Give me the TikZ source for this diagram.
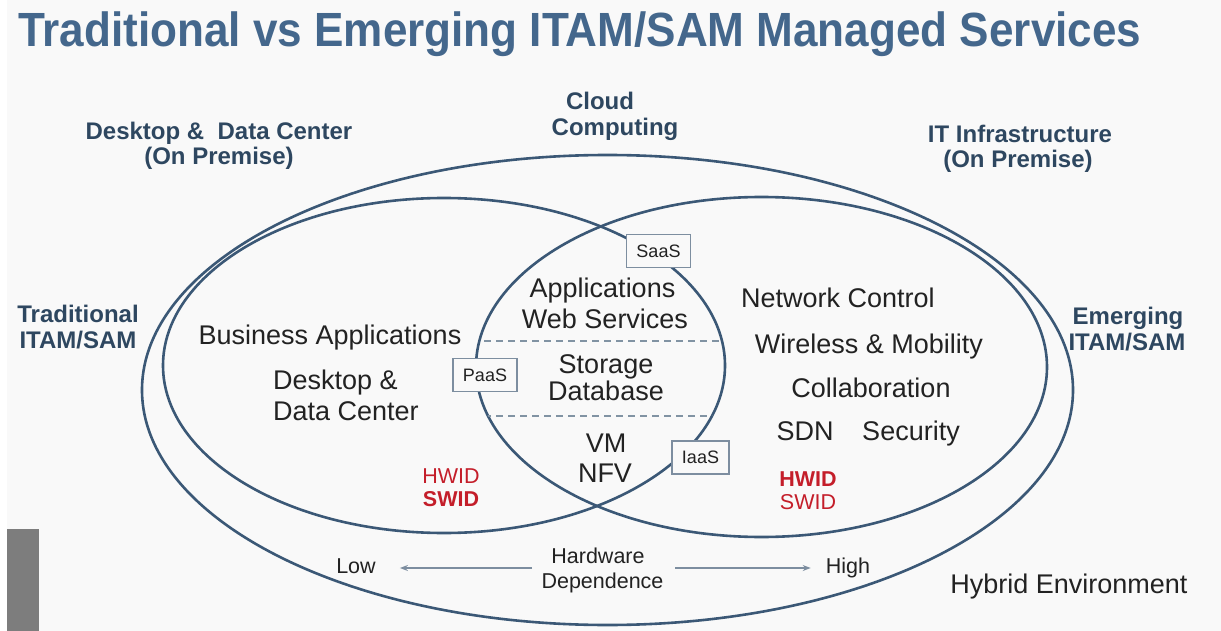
\documentclass[tikz,border=0pt]{standalone}
\usepackage{fontspec}
\setmainfont{Liberation Sans}
\newfontfamily\titlefont[FakeStretch=0.918]{Liberation Sans}
\usepackage{tikz}
\usetikzlibrary{arrows.meta, positioning}
\definecolor{titleblue}{HTML}{44678C}
\definecolor{ringblue}{HTML}{3B5876}
\definecolor{labelblue}{HTML}{2E4760}
\definecolor{bodygray}{HTML}{222222}
\definecolor{idred}{HTML}{C41E2A}
\definecolor{boxgray}{HTML}{7D8EA0}
\definecolor{dashgray}{HTML}{8193A3}
\definecolor{paper}{HTML}{F9F9F9}
\tikzset{
  ring/.style={draw=ringblue, line width=2.6pt},
  head/.style={anchor=base, inner sep=0pt, text=labelblue, font=\bfseries\fontsize{24}{28}\selectfont},
  item/.style={anchor=base, inner sep=0pt, text=bodygray, font=\fontsize{27}{31}\selectfont},
  small/.style={anchor=base, inner sep=0pt, text=bodygray, font=\fontsize{21.5}{25}\selectfont},
  idtag/.style={anchor=base, inner sep=0pt, text=idred, font=\fontsize{21.5}{25}\selectfont},
  svcbox/.style={draw=boxgray, line width=1.1pt, fill=paper, text=bodygray, font=\fontsize{18}{20}\selectfont, inner xsep=10pt, minimum height=33pt},
  levelline/.style={draw=dashgray, line width=1.3pt, dash pattern=on 7pt off 5pt},
  deparrow/.style={draw=boxgray, line width=1.2pt, -{Stealth[length=8pt, width=6pt]}},
}

\begin{document}
\begin{tikzpicture}[x=1pt, y=-1pt]
  \useasboundingbox (0,0) rectangle (1221,631);
  \fill[white] (0,0) rectangle (1221,631);
  \fill[paper] (7,0) rectangle (1221,631);
  \fill[gray!98!black] (7,529) rectangle (39,631);

  \node[anchor=base west, inner sep=0pt, text=titleblue, font=\titlefont\bfseries\fontsize{48}{52}\selectfont] (title) at (18,47) {Traditional vs Emerging ITAM/SAM Managed Services};

  \draw[ring] (607.5,390) ellipse [x radius=465.5, y radius=235];
  \draw[ring] (444,365.5) ellipse [x radius=281, y radius=167.5];
  \draw[ring] (761.5,367) ellipse [x radius=285.5, y radius=170];
  \begin{scope}
    \clip (444,365.5) ellipse [x radius=281, y radius=167.5];
    \clip (761.5,367) ellipse [x radius=285.5, y radius=170];
    \draw[levelline] (460,341) -- (740,341);
    \draw[levelline] (460,416) -- (740,416);
  \end{scope}

  \node[head] (desk) at (219,140) {Desktop \&\ \ Data Center};
  \node[head] (deskprem) at (219,165) {(On Premise)};
  \node[head] (cloud) at (600,110) {Cloud};
  \node[head] (computing) at (615,136) {Computing};
  \node[head] (infra) at (1020,143) {IT Infrastructure};
  \node[head] (infraprem) at (1018,168) {(On Premise)};
  \node[head] (trad) at (78,322) {Traditional};
  \node[head] (tradsam) at (78,348) {ITAM/SAM};
  \node[head] (emer) at (1128,324) {Emerging};
  \node[head] (emersam) at (1127,350) {ITAM/SAM};

  \node[item] (bizapps) at (330,344) {Business Applications};
  \node[item, anchor=base west] (deskdc) at (273,389) {Desktop \&};
  \node[item, anchor=base west] (datac) at (273,420) {Data Center};
  \node[item] (apps) at (602.5,297) {Applications};
  \node[item] (websvc) at (605,328) {Web Services};
  \node[item] (storage) at (606,373) {Storage};
  \node[item] (dbase) at (606,400) {Database};
  \node[item] (vm) at (606,452) {VM};
  \node[item] (nfv) at (605,482) {NFV};
  \node[item] (netctl) at (838,307) {Network Control};
  \node[item] (wireless) at (869,353) {Wireless \& Mobility};
  \node[item] (collab) at (871,397) {Collaboration};
  \node[item] (sdn) at (805,440) {SDN};
  \node[item] (security) at (911,440) {Security};
  \node[item] (hybrid) at (1069,593) {Hybrid Environment};

  \node[idtag] (hwleft) at (451,483) {HWID};
  \node[idtag, font=\bfseries\fontsize{21.5}{25}\selectfont] (swleft) at (451,506) {SWID};
  \node[idtag, font=\bfseries\fontsize{21.5}{25}\selectfont] (hwright) at (808,486) {HWID};
  \node[idtag] (swright) at (808,509) {SWID};

  \node[svcbox] (saas) at (658.5,251) {SaaS};
  \node[svcbox] (paas) at (485,375) {PaaS};
  \node[svcbox] (iaas) at (700.5,457.5) {IaaS};

  \node[small] (low) at (356,573) {Low};
  \node[small] (high) at (848,573) {High};
  \node[small] (hard) at (598,563) {Hardware};
  \node[small] (dep) at (602.5,588) {Dependence};
  \coordinate (lowtail) at (532,568);
  \coordinate (hightail) at (675,568);
  \draw[deparrow, shorten >=24pt] (lowtail) -- (lowtail -| low.east);
  \draw[deparrow, shorten >=15pt] (hightail) -- (hightail -| high.west);
\end{tikzpicture}
\end{document}
